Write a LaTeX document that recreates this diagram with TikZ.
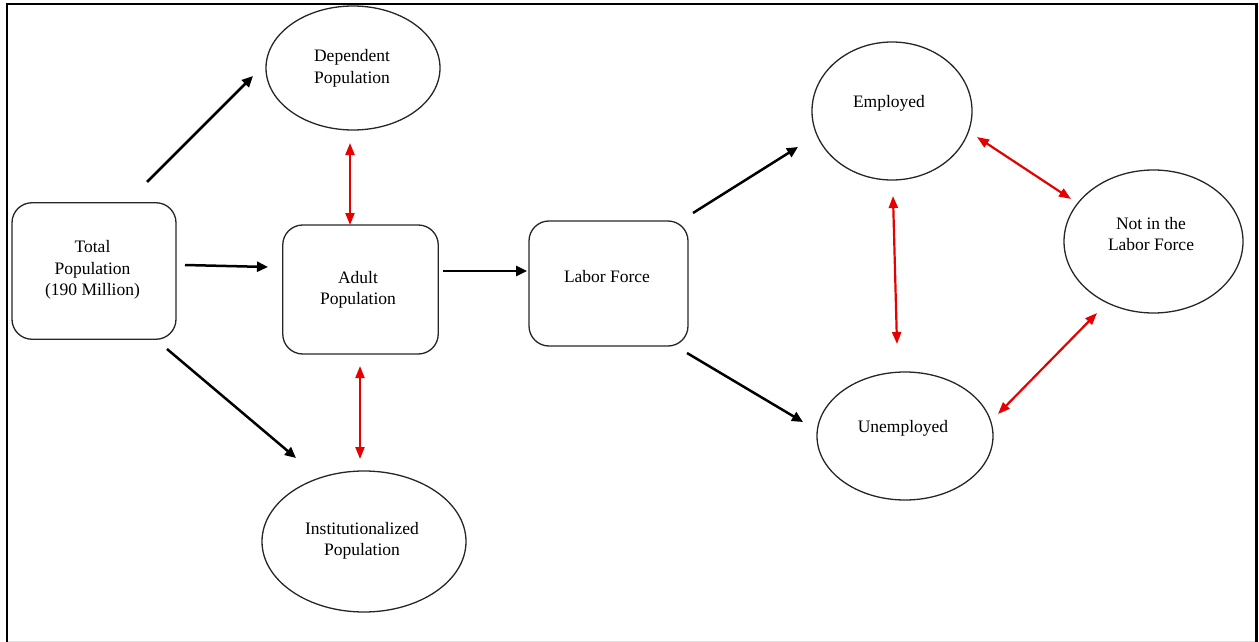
\documentclass[tikz,border=0pt]{standalone}
\usepackage{fontspec}
\setmainfont{Liberation Serif}
\usetikzlibrary{arrows.meta,shapes.geometric}
\begin{document}
\begin{tikzpicture}[x=1pt,y=-1pt,
  txt/.style={font=\fontsize{17.5}{21.5}\selectfont, align=center, inner sep=0pt},
  oval/.style={ellipse, draw=black!85, line width=1.3pt, inner sep=0pt},
  rbox/.style={rectangle, rounded corners=20pt, draw=black!85, line width=1.3pt, inner sep=0pt},
  arr/.style={line width=2.5pt, -{Triangle[length=11pt,width=10pt]}},
  rarr/.style={draw={rgb,255:red,230;green,0;blue,0}, line width=2.2pt,
    {Triangle[length=12pt,width=9pt]}-{Triangle[length=12pt,width=9pt]}}]
\useasboundingbox (0,0) rectangle (1259,642);
% frame
\draw[black!12, line width=1pt] (7,641.5) -- (1256.5,641.5);
\draw[line width=2.5pt] (7,642) -- (7,4) -- (1256.5,4) -- (1256.5,642);

% shapes
\node[rbox, minimum width=164pt, minimum height=136.5pt] (tot) at (94,271) {};
\node[oval, minimum width=174pt, minimum height=124pt] (dep) at (353,68) {};
\node[rbox, minimum width=155.5pt, minimum height=129pt] (adult) at (360.5,289.5) {};
\node[oval, minimum width=204pt, minimum height=141pt] (inst) at (364,541.5) {};
\node[rbox, minimum width=159pt, minimum height=125pt] (lab) at (608.5,283.5) {};
\node[oval, minimum width=160pt, minimum height=138pt] (emp) at (892,111) {};
\node[oval, minimum width=176pt, minimum height=128pt] (unemp) at (905,436) {};
\node[oval, minimum width=179pt, minimum height=143pt] (nilf) at (1153.5,241.5) {};

% texts
\node[txt] (totT) at (92.5,270) {Total\\Population\\(190 Million)};
\node[txt] (depT) at (352,68.5) {Dependent\\Population};
\node[txt] (adultT) at (358,290) {Adult\\Population};
\node[txt] (instT) at (362,541) {Institutionalized\\Population};
\node[txt] (labT) at (607,277) {Labor Force};
\node[txt] (empT) at (889,103) {Employed};
\node[txt] (unempT) at (903,428) {Unemployed};
\node[txt] (nilfT) at (1151,234) {Not in the\\Labor Force};

% connector end points
\coordinate (a1s) at (147,182); \coordinate (a1e) at (253,76);
\coordinate (a2s) at (185,265); \coordinate (a2e) at (268,267);
\coordinate (a3s) at (167,349); \coordinate (a3e) at (296,458);
\coordinate (a4s) at (443,271); \coordinate (a4e) at (527,271);
\coordinate (a5s) at (693,213); \coordinate (a5e) at (798,147);
\coordinate (a6s) at (687,353); \coordinate (a6e) at (803,422);
\coordinate (r1s) at (350,143); \coordinate (r1e) at (350,225);
\coordinate (r2s) at (360,366); \coordinate (r2e) at (360,459);
\coordinate (r3s) at (893,196); \coordinate (r3e) at (897,344);
\coordinate (r4s) at (977,137); \coordinate (r4e) at (1071,199);
\coordinate (r5s) at (1097,313); \coordinate (r5e) at (998,414);

% black arrows
\draw[arr] (a1s) -- (a1e);
\draw[arr] (a2s) -- (a2e);
\draw[arr] (a3s) -- (a3e);
\draw[arr] (a4s) -- (a4e);
\draw[arr] (a5s) -- (a5e);
\draw[arr] (a6s) -- (a6e);
% red double arrows
\draw[rarr] (r1s) -- (r1e);
\draw[rarr] (r2s) -- (r2e);
\draw[rarr] (r3s) -- (r3e);
\draw[rarr] (r4s) -- (r4e);
\draw[rarr] (r5s) -- (r5e);
\end{tikzpicture}
\end{document}
